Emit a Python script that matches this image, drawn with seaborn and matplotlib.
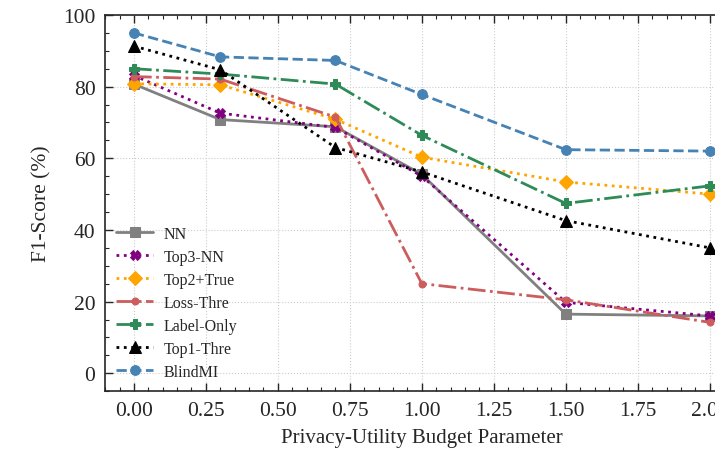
import numpy as np
import pandas as pd
import seaborn as sns
from matplotlib import pyplot as plt
from matplotlib.ticker import MultipleLocator

# budget parameter values
budget = [0.0, 0.3, 0.7, 1.0, 1.5, 2.0]

# F1-score (%) per attack
nn = [80.7, 70.8, 68.8, 55.5, 16.5, 16.0]
top3_nn = [83.1, 72.6, 68.6, 55.0, 19.8, 16.0]
top2_true = [80.8, 80.5, 70.9, 60.3, 53.4, 50.0]
loss_thre = [82.8, 82.1, 71.5, 25.0, 20.5, 14.2]
label_only = [85.0, 83.5, 80.7, 66.4, 47.4, 52.3]
top1_thre = [91.3, 84.7, 63.0, 56.2, 42.6, 35.0]
blindmi = [95.0, 88.3, 87.3, 77.8, 62.4, 62.0]

series = [
    ("NN", nn, "#808080", "s", "-", 7),
    ("Top3-NN", top3_nn, "purple", "X", ":", 7),
    ("Top2+True", top2_true, "orange", "D", ":", 7),
    ("Loss-Thre", loss_thre, "#CD5C5C", "o", "-.", 5),
    ("Label-Only", label_only, "#2E8B57", "P", "-.", 7),
    ("Top1-Thre", top1_thre, "black", "^", ":", 8),
    ("BlindMI", blindmi, "#4682B4", "o", "--", 7),
]

sns.set_style("ticks")
plt.rcParams["font.family"] = ["Liberation Serif", "DejaVu Serif"]
plt.rcParams["mathtext.fontset"] = "stix"

fig = plt.figure(figsize=(7.15, 4.56), dpi=100)
ax = fig.add_axes([0.147, 0.140, 0.886, 0.825])

for name, vals, color, marker, ls, ms in series:
    df = pd.DataFrame({"x": budget, "y": vals})
    sns.lineplot(data=df, x="x", y="y", ax=ax, color=color, marker=marker,
                 linestyle=ls, linewidth=2, markersize=ms,
                 markeredgecolor=color, label=name)

ax.set_xlim(-0.1, 2.1)
ax.set_ylim(-5, 100)
ax.xaxis.set_major_locator(MultipleLocator(0.25))
ax.xaxis.set_minor_locator(MultipleLocator(0.05))
ax.yaxis.set_major_locator(MultipleLocator(20))
ax.yaxis.set_minor_locator(MultipleLocator(5))
ax.xaxis.set_major_formatter(plt.FormatStrFormatter("%.2f"))
ax.tick_params(which="both", direction="in", top=True, right=True)
ax.tick_params(which="major", length=6, width=1, labelsize=15.5, pad=7)
ax.tick_params(which="minor", length=3, width=0.8)
ax.grid(True, which="major", linestyle=":", color="#cccccc", linewidth=0.8)
for s in ax.spines.values():
    s.set_linewidth(1.2)

ax.set_xlabel("Privacy-Utility Budget Parameter", fontsize=15, labelpad=6)
ax.set_ylabel("F1-Score (%)", fontsize=15.5, labelpad=8)

ax.legend(loc="lower left", frameon=False, fontsize=11.5, handlelength=2.3,
          labelspacing=0.44, borderaxespad=0.3, handletextpad=0.65)

fig.savefig("out.png", dpi=100)
